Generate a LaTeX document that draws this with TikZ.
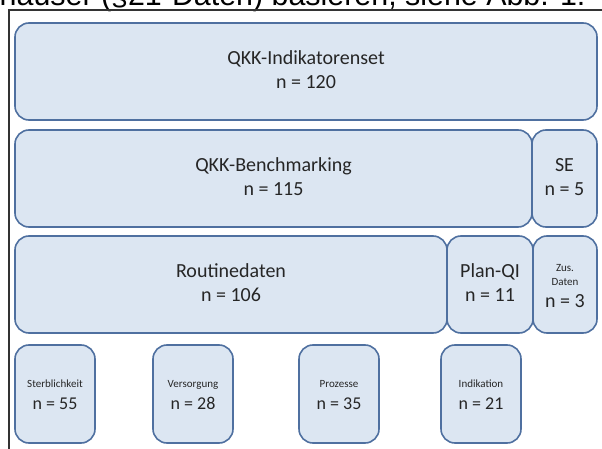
\documentclass[tikz,border=0pt]{standalone}
\usepackage{fontspec}
\setmainfont{Carlito}
\newfontfamily\pagefont{Liberation Sans}
\usepackage{tikz}
\usetikzlibrary{positioning}
\definecolor{setfill}{RGB}{220,230,242}
\definecolor{setline}{RGB}{79,112,160}

\begin{document}
\begin{tikzpicture}[x=1pt, y=-1pt,
        set box/.style={draw=setline, fill=setfill, line width=1.6pt, rounded corners=14pt,
            inner sep=0pt, outer sep=0pt, minimum height=97pt, text=black!85,
            font=\fontsize{20}{24}\selectfont},
        cat box/.style={set box, minimum width=80pt, minimum height=98pt,
            font=\fontsize{18}{22}\selectfont}]

        \useasboundingbox (0,0) rectangle (602,449);

        \node[anchor=base west, inner sep=0pt, font=\pagefont\fontsize{30.4}{35}\selectfont]
            (pagetext) at (-0.5,6) {häuser (§21-Daten) basieren, siehe Abb. 1:};
        \draw[line width=1.3pt, black!80] (9,449) |- (602,10);

        \node[set box, minimum width=582pt, anchor=north west] (qkkset) at (15,23) {\begin{tabular}{c}
            QKK-Indikatorenset \\ n = 120
        \end{tabular}};
        \node[set box, minimum width=517pt, below=10pt of qkkset.south west, anchor=north west] (bench) {\begin{tabular}{c}
            QKK-Benchmarking \\ n = 115
        \end{tabular}};
        \node[set box, minimum width=65pt, right=0pt of bench] (se) {\begin{tabular}{c}
            SE \\ n = 5
        \end{tabular}};
        \node[set box, minimum width=432pt, below=9pt of bench.south west, anchor=north west] (routine) {\begin{tabular}{c}
            Routinedaten \\ n = 106
        \end{tabular}};
        \node[set box, minimum width=86pt, right=0pt of routine] (planqi) {\begin{tabular}{c}
            Plan-QI \\ n = 11
        \end{tabular}};
        \node[set box, minimum width=64pt, right=0pt of planqi] (zusdaten) {\begin{tabular}{c}
            {\fontsize{11}{13}\selectfont Zus.} \\[-10pt] {\fontsize{11}{13}\selectfont Daten} \\[-2pt] n = 3
        \end{tabular}};

        \node[cat box, below=12pt of routine.south west, anchor=north west] (sterb) {\begin{tabular}{c}
            {\fontsize{11}{13}\selectfont Sterblichkeit} \\ n = 55
        \end{tabular}};
        \node[cat box, right=58pt of sterb] (versorg) {\begin{tabular}{c}
            {\fontsize{11}{13}\selectfont Versorgung} \\ n = 28
        \end{tabular}};
        \node[cat box, right=66pt of versorg] (prozesse) {\begin{tabular}{c}
            {\fontsize{11}{13}\selectfont Prozesse} \\ n = 35
        \end{tabular}};
        \node[cat box, right=62pt of prozesse] (indik) {\begin{tabular}{c}
            {\fontsize{11}{13}\selectfont Indikation} \\ n = 21
        \end{tabular}};
\end{tikzpicture}
\end{document}
